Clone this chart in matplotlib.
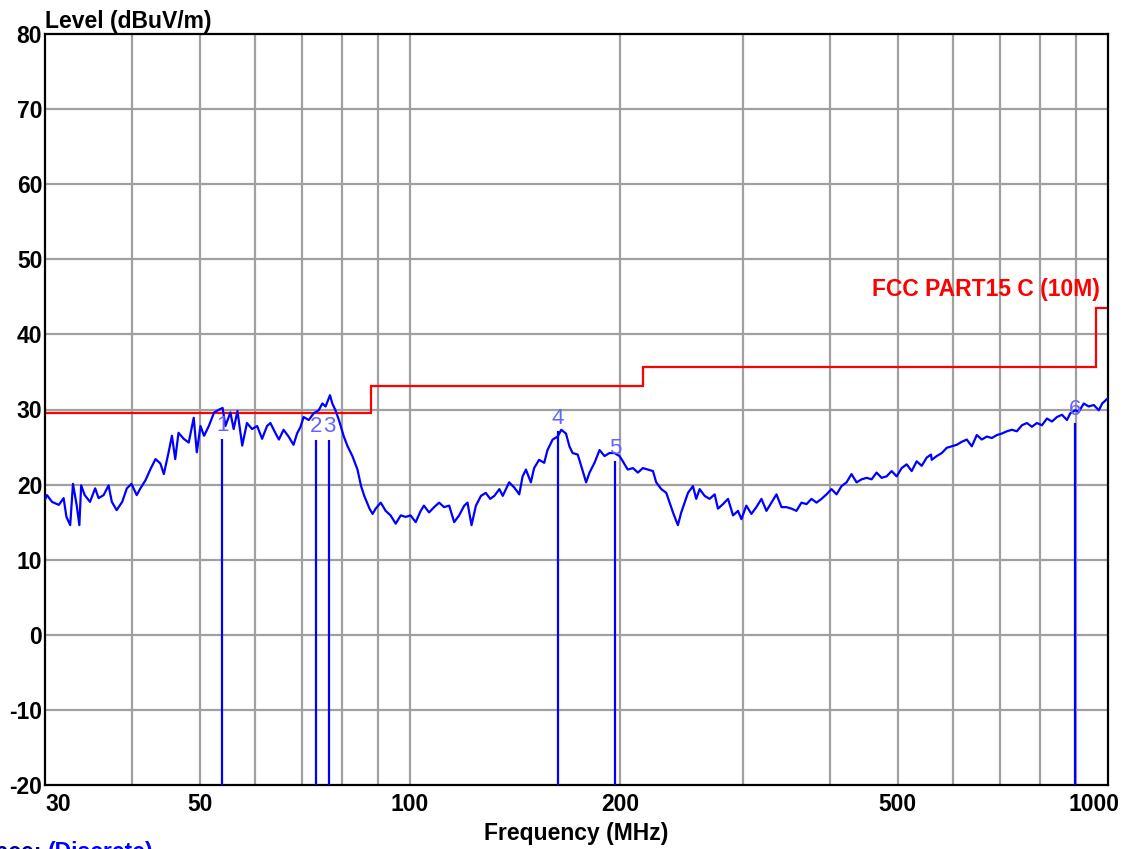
import matplotlib
matplotlib.use('Agg')
from matplotlib import pyplot as plt
from matplotlib import transforms
from matplotlib.ticker import FixedLocator, NullFormatter

plt.rcParams['font.family'] = ['Liberation Sans', 'DejaVu Sans']

trace_freq = [
    30.0, 30.2, 30.7, 31.4, 31.9, 32.2, 32.6, 32.9, 33.3, 33.6, 33.8, 34.2, 34.8, 35.4, 35.8,
    36.4, 37.0, 37.4, 38.0, 38.7, 39.3, 39.9, 40.6, 41.1, 41.8, 42.5, 43.2, 43.9, 44.4, 45.1,
    45.6, 46.1, 46.6, 47.4, 48.2, 49.0, 49.5, 50.1, 50.7, 51.5, 52.4, 53.3, 53.9, 54.4, 55.3,
    55.9, 56.6, 57.5, 58.4, 59.4, 60.4, 61.4, 62.4,
    63.1, 64.2, 64.9, 65.9, 67.0, 68.1, 68.9, 69.7, 70.4, 71.6, 72.8, 74.0, 74.9, 75.7, 76.8,
    77.4, 78.2, 79.1, 80.4, 81.4, 82.7, 84.1, 85.1, 86.0, 87.5, 88.4, 89.3, 90.8, 92.3, 93.8,
    95.4, 97.0, 98.6, 100.2, 101.9, 103.6, 104.7, 106.5, 108.3, 110.1, 111.9, 113.8, 115.7,
    117.6, 119.6, 120.9, 122.5, 124.3, 126.4, 128.4, 130.3,
    132.1, 134.3, 135.8, 138.7, 141.1, 143.4, 145.0, 146.6, 149.0, 150.6, 153.1, 155.7, 157.4,
    160.1, 162.8, 164.7, 167.3, 169.2, 171.0, 173.9, 175.9, 178.8, 180.8, 183.8, 186.9, 190.0,
    193.1, 196.3, 199.6, 201.8, 205.1, 208.6, 212.1, 215.6, 219.2, 222.9, 225.3, 229.1, 232.9,
    235.5, 238.1, 242.0, 244.7, 247.4, 250.2, 254.3, 257.1, 260.0, 264.3, 268.7,
    273.2, 276.2, 280.8, 285.5, 290.3, 295.1, 298.4, 303.3, 308.4, 313.5, 318.8, 324.1, 329.5,
    335.0, 340.6, 346.2, 352.0, 357.8, 363.8, 369.9, 376.0, 382.3, 388.7, 395.1, 401.7, 408.4,
    415.2, 422.1, 429.1, 436.3, 443.6, 451.0, 458.5, 466.1, 473.9, 481.8, 489.8, 498.0, 506.3,
    514.7, 523.3, 532.0, 540.9, 549.9, 557.7,
    559.1, 568.4, 577.9, 587.5, 597.3, 607.2, 617.3, 627.6, 638.1, 648.7, 659.5, 670.5, 681.7,
    693.1, 704.6, 716.3, 728.3, 740.4, 752.7, 765.3, 778.1, 791.0, 804.2, 817.6, 831.2, 845.1,
    859.1, 873.4, 883.1, 898.0, 908.0, 923.2, 938.6, 954.2, 970.2, 981.0, 996.9,
]
trace_level = [
    18.0, 18.6, 17.7, 17.3, 18.2, 15.7, 14.6, 20.1, 17.3, 14.6, 19.9, 18.6, 17.7, 19.5, 18.2,
    18.6, 19.9, 17.7, 16.6, 17.7, 19.5, 20.1, 18.6, 19.5, 20.6, 22.1, 23.4, 22.8, 21.4, 24.3,
    26.5, 23.4, 26.9, 26.1, 25.6, 28.9, 24.3, 27.8, 26.5, 27.8, 29.6, 30.0, 30.2, 27.8, 29.6,
    27.4, 29.8, 25.2, 28.2, 27.4, 27.8, 26.1, 27.8,
    28.2, 26.8, 26.0, 27.3, 26.4, 25.3, 26.8, 27.7, 29.0, 28.6, 29.5, 29.9, 30.8, 30.4, 31.9,
    30.8, 29.9, 28.6, 26.4, 25.1, 23.8, 22.0, 19.8, 18.5, 16.8, 16.1, 16.8, 17.6, 16.5, 15.9,
    14.8, 15.9, 15.7, 15.9, 15.0, 16.5, 17.2, 16.3, 17.0, 17.6, 17.0, 17.2, 15.0,
    15.9, 17.2, 17.6, 14.6, 17.2, 18.5, 18.9, 18.1,
    18.5, 19.4, 18.5, 20.3, 19.6, 18.7, 21.1, 22.0, 20.3, 22.2, 23.3, 22.9, 24.6,
    26.0, 26.4, 27.3, 26.8, 25.1, 24.2, 24.0, 22.5, 20.3, 21.6, 22.9, 24.6, 23.8,
    24.2, 24.2, 23.8, 23.1, 22.0, 22.2, 21.6, 22.2, 22.0, 21.8, 20.3, 19.4, 18.9,
    17.6, 16.3, 14.6, 16.3, 17.6, 18.9, 19.8, 18.1, 19.4, 18.5, 18.1,
    18.7, 16.8, 17.4, 18.1, 15.9, 16.5, 15.4, 17.2, 16.1, 17.0, 18.1, 16.5, 17.6,
    18.7, 17.0, 17.0, 16.8, 16.5, 17.6, 17.4, 18.1, 17.6, 18.1, 18.7, 19.4, 18.7,
    19.8, 20.3, 21.4, 20.3, 20.7, 20.9, 20.7, 21.6, 20.9, 21.1, 21.8, 21.1, 22.2,
    22.7, 21.8, 23.1, 22.5, 23.6, 24.0,
    23.3, 23.8, 24.2, 24.9, 25.1, 25.3, 25.7, 26.0, 25.1, 26.6, 26.0, 26.4, 26.2,
    26.6, 26.8, 27.1, 27.3, 27.1, 27.9, 28.2, 27.7, 28.2, 27.9, 28.8, 28.4, 29.0,
    29.3, 28.6, 29.5, 29.9, 29.7, 30.8, 30.4, 30.6, 29.9, 30.8, 31.4,
]

# FCC part 15 class C limit at 10 m
limit_edges = [30, 88, 216, 960, 997]
limit_level = [29.5, 33.1, 35.6, 43.5]

# discrete markers
marker_freq = [53.8, 73.3, 76.6, 162.8, 196.5, 898.0]
marker_level = [26.1, 26.0, 26.0, 27.1, 23.1, 28.2]
marker_label = ['1', '2', '3', '4', '5', '6']

grid_x = [40, 50, 60, 70, 80, 90, 100, 200, 300, 400, 500, 600, 700, 800, 900]
xtick_vals = [30, 50, 100, 200, 500, 1000]
ytick_vals = list(range(-20, 81, 10))

W, H = 1134, 849
fig = plt.figure(figsize=(W / 100, H / 100), dpi=100)
ax = fig.add_axes([45 / W, 1 - 785 / H, (1108 - 45) / W, (785 - 34) / H])

ax.set_xscale('log')
ax.set_xlim(30, 1000)
ax.set_ylim(-20, 80)

for g in grid_x:
    ax.axvline(g, color='#a0a0a0', lw=1.6, zorder=0)
for g in ytick_vals[1:-1]:
    ax.axhline(g, color='#a0a0a0', lw=1.6, zorder=0)

ax.stairs(limit_level, limit_edges, baseline=None, color='#ff0000', lw=1.6, zorder=2)
ax.plot(trace_freq, trace_level, color='#0000ff', lw=1.6, zorder=3)
ax.vlines(marker_freq, -20, marker_level, color='#0000ff', lw=1.6, zorder=3)
for f, lv, lab in zip(marker_freq, marker_level, marker_label):
    ax.annotate(lab, (f, lv), xytext=(0, 2), textcoords='offset points',
                ha='center', va='bottom', fontsize=16, color='#6464ff', zorder=4)

ax.text(0.992, 43.5 + 1.0, 'FCC PART15 C (10M)', transform=ax.get_yaxis_transform(),
        ha='right', va='bottom', color='#ff0000', fontsize=16.5, fontweight='bold')

ax.xaxis.set_major_locator(FixedLocator(xtick_vals))
ax.xaxis.set_minor_formatter(NullFormatter())
ax.xaxis.set_minor_locator(FixedLocator([]))
ax.set_xticklabels([str(v) for v in xtick_vals], fontsize=16.5, fontweight='bold')
ax.set_yticks(ytick_vals)
ax.set_yticklabels([str(v) for v in ytick_vals], fontsize=16.5, fontweight='bold')
ax.tick_params(axis='x', length=0, pad=6)
ax.tick_params(axis='y', length=0, pad=2)
xlabels = ax.get_xticklabels()
xlabels[0].set_ha('left')
shift = transforms.ScaledTranslation(-14 / 100, 0, fig.dpi_scale_trans)
xlabels[-1].set_transform(xlabels[-1].get_transform() + shift)

for s in ax.spines.values():
    s.set_linewidth(1.6)
    s.set_color('black')

fig.text(45 / W, 1 - 28 / H, 'Level (dBuV/m)', ha='left', va='baseline',
         fontsize=16.5, fontweight='bold')
fig.text(576 / W, 1 - 840 / H, 'Frequency (MHz)', ha='center', va='baseline',
         fontsize=16.5, fontweight='bold')
fig.text(42 / W, 1 - 841 / H, 'Trace:', ha='right', va='top', fontsize=16.5,
         fontweight='bold', color='#000080')
fig.text(48 / W, 1 - 841 / H, '(Discrete)', ha='left', va='top', fontsize=16.5,
         fontweight='bold', color='#0000ff')

fig.savefig('out.png', dpi=100)
